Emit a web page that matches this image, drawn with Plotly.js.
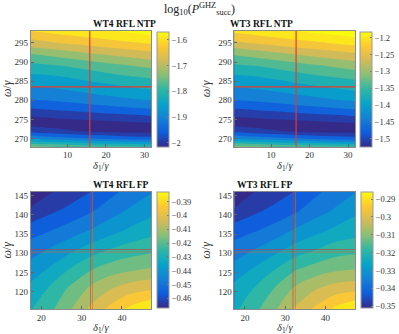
<!DOCTYPE html>
<html>
<head>
<meta charset="utf-8">
<script src="https://cdn.plot.ly/plotly-3.0.1.min.js"></script>
<style>body{margin:0;background:#fff}#plot{width:399px;height:334px}</style>
</head>
<body>
<div id="plot"></div>
<script>
// grids
var deltaNTP = [0, 5.5, 11, 16.5, 22, 27.5, 33];
var omegaNTP = [267.5, 270, 272, 274, 276, 278, 280, 283, 286, 289, 292, 295, 298.5];
var deltaFP = [17, 22, 27.5, 32.5, 37.5, 42.5, 48];
var omegaFP = [115, 121, 126, 131, 136, 141, 146.5];

var wt4NTP = [
  [-1.720, -1.730, -1.740, -1.750, -1.755, -1.760, -1.765],
  [-1.880, -1.895, -1.905, -1.915, -1.925, -1.935, -1.940],
  [-1.970, -1.985, -1.995, -2.005, -2.010, -2.013, -2.015],
  [-2.013, -2.014, -2.014, -2.012, -2.008, -2.003, -1.998],
  [-1.995, -1.990, -1.982, -1.975, -1.968, -1.962, -1.955],
  [-1.955, -1.948, -1.940, -1.932, -1.925, -1.918, -1.912],
  [-1.920, -1.915, -1.908, -1.898, -1.890, -1.882, -1.875],
  [-1.885, -1.880, -1.872, -1.862, -1.852, -1.842, -1.832],
  [-1.850, -1.845, -1.835, -1.822, -1.810, -1.800, -1.790],
  [-1.810, -1.802, -1.792, -1.780, -1.767, -1.755, -1.745],
  [-1.760, -1.748, -1.735, -1.722, -1.710, -1.700, -1.690],
  [-1.695, -1.682, -1.670, -1.660, -1.650, -1.640, -1.630],
  [-1.630, -1.620, -1.610, -1.600, -1.590, -1.580, -1.570]
];
var wt3NTP = [
  [-1.298, -1.306, -1.314, -1.321, -1.325, -1.329, -1.333],
  [-1.421, -1.432, -1.440, -1.448, -1.455, -1.463, -1.467],
  [-1.490, -1.501, -1.509, -1.517, -1.521, -1.523, -1.525],
  [-1.523, -1.524, -1.524, -1.522, -1.519, -1.515, -1.511],
  [-1.509, -1.505, -1.499, -1.494, -1.488, -1.484, -1.478],
  [-1.478, -1.473, -1.467, -1.461, -1.455, -1.450, -1.445],
  [-1.452, -1.448, -1.442, -1.435, -1.429, -1.422, -1.417],
  [-1.425, -1.421, -1.415, -1.407, -1.399, -1.392, -1.384],
  [-1.398, -1.394, -1.386, -1.376, -1.367, -1.360, -1.352],
  [-1.367, -1.361, -1.353, -1.344, -1.334, -1.325, -1.317],
  [-1.329, -1.320, -1.310, -1.300, -1.291, -1.283, -1.275],
  [-1.279, -1.269, -1.260, -1.252, -1.245, -1.237, -1.229],
  [-1.229, -1.221, -1.214, -1.206, -1.198, -1.191, -1.183]
];
var wt4FP = [
  [-0.429, -0.423, -0.414, -0.405, -0.397, -0.390, -0.384],
  [-0.434, -0.428, -0.420, -0.413, -0.408, -0.404, -0.402],
  [-0.440, -0.435, -0.428, -0.422, -0.418, -0.416, -0.414],
  [-0.446, -0.442, -0.437, -0.432, -0.428, -0.425, -0.423],
  [-0.453, -0.450, -0.446, -0.442, -0.438, -0.434, -0.431],
  [-0.463, -0.458, -0.454, -0.450, -0.445, -0.441, -0.437],
  [-0.467, -0.465, -0.461, -0.457, -0.452, -0.447, -0.443]
];
var wt3FP = [
  [-0.322, -0.317, -0.310, -0.303, -0.297, -0.291, -0.286],
  [-0.325, -0.321, -0.315, -0.309, -0.305, -0.302, -0.301],
  [-0.330, -0.326, -0.321, -0.316, -0.313, -0.311, -0.310],
  [-0.335, -0.332, -0.328, -0.324, -0.321, -0.318, -0.317],
  [-0.340, -0.338, -0.335, -0.331, -0.328, -0.325, -0.323],
  [-0.348, -0.344, -0.341, -0.338, -0.334, -0.331, -0.327],
  [-0.351, -0.349, -0.346, -0.343, -0.339, -0.335, -0.332]
];

// optimum markers (red cross lines)
var optDeltaNTP = [15.8, 16.5];
var optOmegaNTP = [283.5, 283.5];
var optDeltaFP = [[32.2, 32.7], [31.9, 32.5]];
var optOmegaFP = [[130.95, 130.3], [130.95, 130.3]];

var panelTitles = ['WT4 RFL NTP', 'WT3 RFL NTP', 'WT4 RFL FP', 'WT3 RFL FP'];
var deltaTicks = [[10, 20, 30], [20, 30, 40]];

var parula = [[0,'#352a87'],[0.125,'#0f5cdd'],[0.25,'#1481d6'],[0.375,'#06a4ca'],
  [0.5,'#2eb7a4'],[0.625,'#87bf77'],[0.75,'#d1bb59'],[0.875,'#fec832'],[1,'#f9fb0e']];

var serif = 'Liberation Serif, DejaVu Serif, serif';

function panel(n, x, y, z, zmin, zmax, step, cb) {
  var ax = n === 1 ? '' : n;
  var heat = {
    type: 'heatmap', x: x, y: y, z: z, zmin: zmin, zmax: zmax, zauto: false,
    colorscale: parula, xaxis: 'x' + ax, yaxis: 'y' + ax, hoverinfo: 'skip',
    colorbar: {
      x: cb.x, xanchor: 'left', xpad: 0, ypad: 0, y: cb.y, yanchor: 'middle',
      len: cb.len, thickness: 12, outlinecolor: '#999', outlinewidth: 1,
      ticks: 'inside', ticklen: 2, tickcolor: '#777', dtick: cb.dtick,
      tickfont: {family: serif, size: 8.5, color: '#333'}
    }
  };
  var cont = {
    type: 'contour', x: x, y: y, z: z, zmin: zmin, zmax: zmax, zauto: false,
    colorscale: parula, showscale: false, xaxis: 'x' + ax, yaxis: 'y' + ax,
    contours: {coloring: 'fill', showlines: false, start: zmin + step / 2, end: zmax, size: step},
    line: {width: 0}
  };
  return [heat, cont];
}

var data = [].concat(
  panel(1, deltaNTP, omegaNTP, wt4NTP, -2.017, -1.57, 0.04, {x: 160/399, y: 0.7313, len: 0.3458, dtick: 0.1}),
  panel(2, deltaNTP, omegaNTP, wt3NTP, -1.526, -1.183, 0.03, {x: 367.7/399, y: 0.7313, len: 0.3458, dtick: 0.05}),
  panel(3, deltaFP, omegaFP, wt4FP, -0.467, -0.383, 0.007, {x: 160/399, y: 0.2515, len: 0.347, dtick: 0.01}),
  panel(4, deltaFP, omegaFP, wt3FP, -0.351, -0.286, 0.0055, {x: 368/399, y: 0.2515, len: 0.347, dtick: 0.01})
);

function xax(dom, rng, anchor, ticks) {
  return {domain: dom, range: rng, anchor: anchor, tickvals: ticks, showline: true, mirror: true,
    linecolor: '#8a8a8a', linewidth: 1, ticks: 'inside', ticklen: 3, tickcolor: '#666',
    showgrid: false, zeroline: false, tickfont: {family: serif, size: 9, color: '#333'}};
}
function yax(dom, rng, anchor) {
  return {domain: dom, range: rng, anchor: anchor, dtick: 5, showline: true, mirror: true,
    linecolor: '#8a8a8a', linewidth: 1, ticks: 'inside', ticklen: 3, tickcolor: '#666',
    showgrid: false, zeroline: false, tickfont: {family: serif, size: 9, color: '#333'},
    title: {text: '<i>ω</i>/<i>γ</i>', font: {family: serif, size: 12, color: '#333'}, standoff: 4}};
}

var dl = [0.0789, 0.3872], dr = [0.5997, 0.908], dt = [0.5608, 0.9072], db = [0.0749, 0.426];
var ntpX = [0.5, 31.8], ntpY = [267.9, 298.1], fpX = [17.4, 47.3], fpY = [115.5, 146];

var shapes = [];
[0, 1].forEach(function (i) {
  var ax = i === 0 ? '' : '2';
  shapes.push({type: 'line', xref: 'x' + ax, yref: 'y' + ax + ' domain', x0: optDeltaNTP[i], x1: optDeltaNTP[i], y0: 0, y1: 1, line: {color: '#e8392c', width: 1.2}});
  shapes.push({type: 'line', xref: 'x' + ax + ' domain', yref: 'y' + ax, x0: 0, x1: 1, y0: optOmegaNTP[i], y1: optOmegaNTP[i], line: {color: '#e8392c', width: 1.2}});
});
[0, 1].forEach(function (i) {
  var ax = i === 0 ? '3' : '4';
  var cols = ['#e0302a', '#d9662a'];
  [0, 1].forEach(function (k) {
    shapes.push({type: 'line', xref: 'x' + ax, yref: 'y' + ax + ' domain', x0: optDeltaFP[i][k], x1: optDeltaFP[i][k], y0: 0, y1: 1, opacity: 0.75, line: {color: cols[k], width: 0.8}});
    shapes.push({type: 'line', xref: 'x' + ax + ' domain', yref: 'y' + ax, x0: 0, x1: 1, y0: optOmegaFP[i][k], y1: optOmegaFP[i][k], opacity: 0.75, line: {color: cols[k], width: 0.8}});
  });
});

var annotations = [];
[[dl, dt, 0], [dr, dt, 1], [dl, db, 2], [dr, db, 3]].forEach(function (p) {
  var cx = (p[0][0] + p[0][1]) / 2;
  annotations.push({x: cx, y: p[1][1], yanchor: 'bottom', yshift: 0, text: '<b>' + panelTitles[p[2]] + '</b>',
    font: {family: serif, size: 9.5, color: '#111'}});
  annotations.push({x: cx, y: p[1][0], yanchor: 'top', yshift: -11, text: '<i>δ</i><sub>1</sub>/<i>γ</i>',
    font: {family: serif, size: 10.5, color: '#333'}});
});
annotations.forEach(function (a) { a.xref = 'paper'; a.yref = 'paper'; a.showarrow = false; });

var layout = {
  width: 399, height: 334,
  margin: {l: 0, r: 0, t: 0, b: 0},
  paper_bgcolor: '#fff', plot_bgcolor: '#fff',
  title: {text: 'log<sub>10</sub>(<i>P</i><sup>GHZ</sup><sub>succ</sub>)', x: 0.5, xanchor: 'center', y: 0.975, yanchor: 'middle',
    font: {family: serif, size: 12, color: '#222'}},
  showlegend: false,
  xaxis: xax(dl, ntpX, 'y', deltaTicks[0]), yaxis: yax(dt, ntpY, 'x'),
  xaxis2: xax(dr, ntpX, 'y2', deltaTicks[0]), yaxis2: yax(dt, ntpY, 'x2'),
  xaxis3: xax(dl, fpX, 'y3', deltaTicks[1]), yaxis3: yax(db, fpY, 'x3'),
  xaxis4: xax(dr, fpX, 'y4', deltaTicks[1]), yaxis4: yax(db, fpY, 'x4'),
  shapes: shapes,
  annotations: annotations
};

Plotly.newPlot('plot', data, layout, {staticPlot: true});
</script>
</body>
</html>
